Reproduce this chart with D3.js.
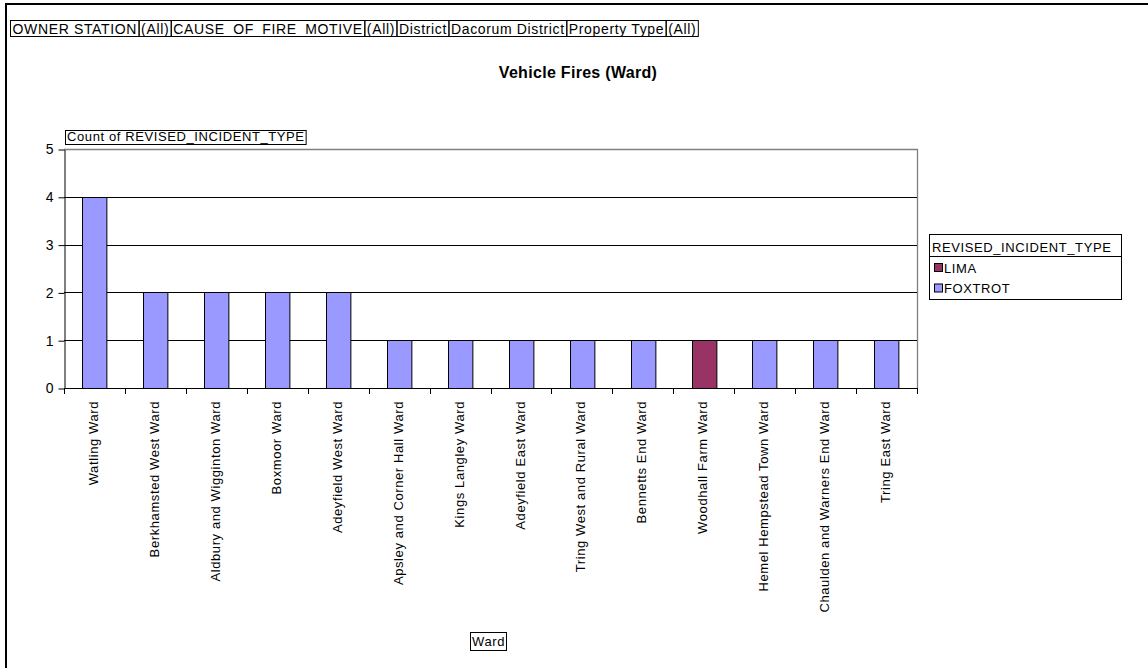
<!DOCTYPE html>
<html><head><meta charset="utf-8">
<script src="https://cdn.jsdelivr.net/npm/d3@7"></script>
<style>
body{margin:0;background:#fff;}
text{font-family:"Liberation Sans",Arial,sans-serif;fill:#000;}
</style></head>
<body>
<svg id="c" width="1148" height="668"></svg>
<script>
const filterLabels = ["OWNER STATION","(All)","CAUSE_OF_FIRE_MOTIVE","(All)","District","Dacorum District","Property Type","(All)"];
const wards = ["Watling Ward","Berkhamsted West Ward","Aldbury and Wigginton Ward","Boxmoor Ward","Adeyfield West Ward","Apsley and Corner Hall Ward","Kings Langley Ward","Adeyfield East Ward","Tring West and Rural Ward","Bennetts End Ward","Woodhall Farm Ward","Hemel Hempstead Town Ward","Chaulden and Warners End Ward","Tring East Ward"];
const counts = [4,2,2,2,2,1,1,1,1,1,1,1,1,1];
const types = ["FOXTROT","FOXTROT","FOXTROT","FOXTROT","FOXTROT","FOXTROT","FOXTROT","FOXTROT","FOXTROT","FOXTROT","LIMA","FOXTROT","FOXTROT","FOXTROT"];
const legendItems = ["LIMA","FOXTROT"];
const colors = {LIMA:"#993366", FOXTROT:"#9999FF"};
const yTicks = [0,1,2,3,4,5];
const chartTitle = "Vehicle Fires (Ward)";
const yTitle = "Count of REVISED_INCIDENT_TYPE";
const xTitle = "Ward";
const legendTitle = "REVISED_INCIDENT_TYPE";

const svg = d3.select("#c");
const FS = "13px", LS = "0.6px";

// outer border
svg.append("rect").attr("x",6).attr("y",4).attr("width",1160).attr("height",700)
  .attr("fill","none").attr("stroke","#000").attr("stroke-width",2);

// filter bar
let fx = 10.5;
const fy = 20.5, fh = 16;
filterLabels.forEach(l=>{
  const t = svg.append("text").attr("x",fx+2).attr("y",fy+13).style("font-size","14px").style("letter-spacing","0.65px").text(l);
  const w = t.node().getComputedTextLength();
  svg.append("rect").attr("x",fx).attr("y",fy).attr("width",w+4).attr("height",fh)
    .attr("fill","none").attr("stroke","#000").attr("stroke-width",1);
  fx += w+4;
});

// title
svg.append("text").attr("x",578).attr("y",78).attr("text-anchor","middle")
  .style("font-size","16px").style("font-weight","bold").style("letter-spacing","0.3px").text(chartTitle);

const L=64, R=917, T=149, B=388;
const x = d3.scaleBand().domain(wards).range([L,R]).paddingInner(0.6).paddingOuter(0.3);
const y = d3.scaleLinear().domain([0,5]).range([B,T]);
const step = x.step(), bw = x.bandwidth();

// plot border (top/right gray)
svg.append("path").attr("d",`M${L},${T+0.5}H${R+0.5}V${B}`).attr("fill","none").attr("stroke","#808080").attr("stroke-width",1.3);

// gridlines
svg.append("g").selectAll("line").data(yTicks.filter(d=>d>0&&d<5)).join("line")
  .attr("x1",L).attr("x2",R).attr("y1",d=>Math.round(y(d))+0.5).attr("y2",d=>Math.round(y(d))+0.5)
  .attr("stroke","#000").attr("stroke-width",1);

// bars
svg.append("g").selectAll("rect").data(wards).join("rect")
  .attr("x",d=>Math.round(x(d))+0.5).attr("width",bw)
  .attr("y",(d,i)=>Math.round(y(counts[i]))+0.5).attr("height",(d,i)=>Math.round(y(0))-Math.round(y(counts[i])))
  .attr("fill",(d,i)=>colors[types[i]]).attr("stroke","#000").attr("stroke-width",1);

// y axis
const ya = svg.append("g").attr("transform",`translate(${L+0.5},0.5)`)
  .call(d3.axisLeft(y).tickValues(yTicks).tickFormat(d3.format("d")).tickSize(6).tickPadding(5).tickSizeOuter(0));
ya.select(".domain").attr("stroke","#000");
ya.selectAll("text").style("font-size","14px").style("font-family","Liberation Sans, Arial, sans-serif");
ya.selectAll("line").attr("stroke","#000");

// x axis
svg.append("line").attr("x1",L).attr("x2",R+1).attr("y1",B+0.5).attr("y2",B+0.5).attr("stroke","#000");
const bounds = wards.map(d=>x(d)-(step-bw)/2).concat([R]);
svg.append("g").selectAll("line").data(bounds).join("line")
  .attr("x1",d=>Math.round(d)+0.5).attr("x2",d=>Math.round(d)+0.5).attr("y1",B).attr("y2",B+6)
  .attr("stroke","#000");
svg.append("g").selectAll("text").data(wards).join("text")
  .attr("transform",d=>`translate(${x(d)+bw/2-1},401) rotate(-90)`)
  .attr("text-anchor","end").attr("dy","0.35em")
  .style("font-size",FS).style("letter-spacing",LS).text(d=>d);

// y title box
{
  const t = svg.append("text").attr("x",67).attr("y",141).style("font-size",FS).style("letter-spacing",LS).text(yTitle);
  const w = t.node().getComputedTextLength();
  svg.append("rect").attr("x",65.5).attr("y",130.5).attr("width",w+3).attr("height",14)
    .attr("fill","none").attr("stroke","#000");
}
// x title box
{
  const t = svg.append("text").attr("x",472).attr("y",646).style("font-size",FS).style("letter-spacing",LS).text(xTitle);
  const w = t.node().getComputedTextLength();
  svg.append("rect").attr("x",470.5).attr("y",632.5).attr("width",w+3).attr("height",18)
    .attr("fill","none").attr("stroke","#000");
}

// legend
{
  const lx = 929.5, ly = 234.5;
  const t = svg.append("text").attr("x",lx+2.5).attr("y",ly+17).style("font-size",FS).style("letter-spacing",LS).text(legendTitle);
  const w = Math.max(192, t.node().getComputedTextLength()+5);
  svg.append("rect").attr("x",lx).attr("y",ly).attr("width",w).attr("height",65).attr("fill","none").attr("stroke","#000");
  svg.append("line").attr("x1",lx).attr("x2",lx+w).attr("y1",ly+22).attr("y2",ly+22).attr("stroke","#000");
  legendItems.forEach((k,i)=>{
    const cy = ly + 33 + i*20.5;
    svg.append("rect").attr("x",lx+5).attr("y",cy-4).attr("width",8).attr("height",8)
      .attr("fill",colors[k]).attr("stroke","#000");
    svg.append("text").attr("x",lx+14.5).attr("y",cy+5).style("font-size",FS).style("letter-spacing",LS).text(k);
  });
}
</script>
</body></html>
